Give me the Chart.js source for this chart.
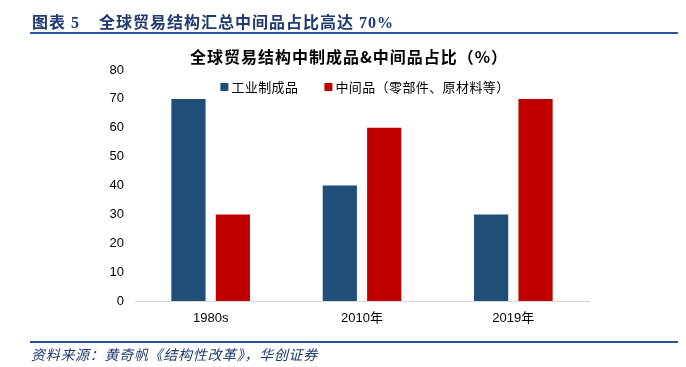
<!DOCTYPE html>
<html><head><meta charset="utf-8">
<script src="https://cdn.jsdelivr.net/npm/chart.js@4/dist/chart.umd.min.js"></script>
<style>
html,body{margin:0;padding:0;background:#fff;width:686px;height:367px;overflow:hidden;}
#wrap{position:relative;width:686px;height:367px;}
#c{position:absolute;left:0;top:0;}
.hdr{position:absolute;top:9px;font:bold 16px "Liberation Serif","Noto Sans CJK SC";color:#1F3A70;white-space:nowrap;letter-spacing:1px;}
#h1{left:32px;}
#h2{left:99px;}
#hline{position:absolute;left:30px;top:32px;width:648px;height:2px;background:#24549C;}
#fline{position:absolute;left:30px;top:341px;width:648px;height:2px;background:#24549C;}
#src{position:absolute;left:31px;top:344px;font:italic 14px "Noto Sans CJK SC";color:#1F3A70;white-space:nowrap;letter-spacing:0.7px;}
</style></head>
<body><div id="wrap">
<canvas id="c" width="686" height="367"></canvas>
<div class="hdr" id="h1">图表 5</div>
<div class="hdr" id="h2">全球贸易结构汇总中间品占比高达 70%</div>
<div id="hline"></div>
<div id="fline"></div>
<div id="src">资料来源：黄奇帆《结构性改革》，华创证券</div>
</div>
<script>
const categories = ['1980s', '2010年', '2019年'];
const manufactured = [70, 40, 30];
const intermediate = [30, 60, 70];
const seriesNames = ['工业制成品', '中间品（零部件、原材料等）'];
const yTicks = [0, 10, 20, 30, 40, 50, 60, 70, 80];
const chartTitle = '全球贸易结构中制成品&中间品占比（%）';

const colors = ['#1F4E79', '#C00000'];

const customLegend = {
  id: 'customLegend',
  afterDraw(chart) {
    const ctx = chart.ctx;
    const area = chart.chartArea;
    ctx.save();
    // title
    ctx.font = 'bold 16px "Noto Sans CJK SC"';
    ctx.letterSpacing = '1px';
    ctx.fillStyle = '#000';
    ctx.textAlign = 'center';
    ctx.textBaseline = 'middle';
    ctx.fillText(chartTitle, 349, 57);
    // legend
    ctx.font = '13px "Noto Sans CJK SC"';
    ctx.letterSpacing = '0.4px';
    const box = 8, gapBox = 3, gapItem = 26;
    const items = chart.data.datasets.map(d => ({label: d.label, color: d.backgroundColor, w: ctx.measureText(d.label).width}));
    let total = 0;
    items.forEach((it, i) => { total += box + gapBox + it.w + (i < items.length - 1 ? gapItem : 0); });
    let x = (area.left + area.right) / 2 + 3 - total / 2;
    const y = 87;
    ctx.textAlign = 'left';
    items.forEach(it => {
      ctx.fillStyle = it.color;
      ctx.fillRect(x, y - box / 2, box, box);
      x += box + gapBox;
      ctx.fillStyle = '#000';
      ctx.fillText(it.label, x, y);
      x += it.w + gapItem;
    });
    ctx.restore();
  }
};

new Chart(document.getElementById('c'), {
  type: 'bar',
  data: {
    labels: categories,
    datasets: [
      {label: seriesNames[0], data: manufactured, backgroundColor: colors[0]},
      {label: seriesNames[1], data: intermediate, backgroundColor: colors[1]}
    ]
  },
  options: {
    responsive: false,
    animation: false,
    devicePixelRatio: 1,
    layout: {padding: {left: 0, right: 97, top: 70, bottom: 36}},
    datasets: {bar: {categoryPercentage: 0.587, barPercentage: 0.77}},
    plugins: {legend: {display: false}, title: {display: false}, tooltip: {enabled: false}},
    scales: {
      x: {
        grid: {display: false, drawTicks: false},
        border: {display: true, color: '#D9D9D9', width: 1},
        ticks: {color: '#000', font: {family: '"Liberation Sans","Noto Sans CJK SC"', size: 13}, padding: 10},
        afterFit(s) { s.height = 30; }
      },
      y: {
        min: 0, max: 80,
        afterBuildTicks(s) { s.ticks = yTicks.map(v => ({value: v})); },
        grid: {display: false, drawTicks: false},
        border: {display: false},
        ticks: {color: '#000', font: {family: '"Liberation Sans"', size: 13}, padding: 11},
        afterFit(s) { s.width = 135; }
      }
    }
  },
  plugins: [customLegend]
});
</script>
</body></html>
